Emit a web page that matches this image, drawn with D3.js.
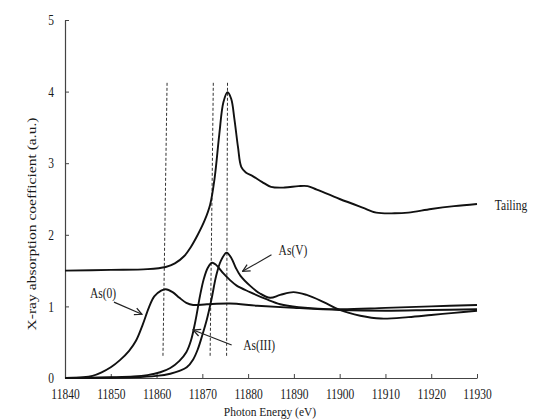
<!DOCTYPE html>
<html>
<head>
<meta charset="utf-8">
<script src="https://cdn.jsdelivr.net/npm/d3@7"></script>
<style>
  body { margin: 0; background: #fff; }
  text { font-family: "Liberation Serif", "Times New Roman", serif; fill: #1a1a1a; }
</style>
</head>
<body>
<script>
// data (energy in eV, absorption in a.u.)
var xTicks = [11840, 11850, 11860, 11870, 11880, 11890, 11900, 11910, 11920, 11930];
var yTicks = [0, 1, 2, 3, 4, 5];

var tailing = [[11840,1.50],[11850,1.51],[11858,1.52],[11862,1.55],[11864,1.60],[11866,1.70],[11867.5,1.83],
  [11869,2.0],[11870.5,2.2],[11871.7,2.42],[11872.7,2.8],[11873.7,3.4],[11874.6,3.85],[11875.5,3.99],
  [11876.3,3.9],[11877,3.62],[11877.8,3.22],[11878.5,2.95],[11879.5,2.87],[11881,2.82],[11883,2.74],
  [11885,2.67],[11888,2.66],[11891,2.68],[11893,2.68],[11895,2.63],[11900,2.50],[11905,2.38],[11908,2.31],
  [11912,2.30],[11915,2.31],[11920,2.36],[11925,2.40],[11930,2.43]];

var as0 = [[11840,0.0],[11844,0.01],[11846,0.03],[11848,0.08],[11850,0.15],[11852,0.25],[11854,0.38],
  [11855.5,0.52],[11857,0.75],[11858.3,0.98],[11859.5,1.14],[11861,1.22],[11862,1.24],[11863.5,1.2],
  [11865,1.12],[11866.5,1.05],[11868,1.02],[11871,1.03],[11876,1.04],[11882,1.01],[11890,0.98],
  [11900,0.95],[11910,0.94],[11920,0.95],[11930,0.96]];

var as3 = [[11840,0.0],[11850,0.01],[11855,0.02],[11858,0.04],[11860.8,0.08],[11863,0.14],[11865,0.24],
  [11866.5,0.36],[11867.5,0.52],[11868.5,0.8],[11869.5,1.15],[11870.3,1.38],[11871.2,1.54],[11872.1,1.61],
  [11873,1.58],[11874.6,1.46],[11876,1.37],[11877.5,1.29],[11880.4,1.2],[11884,1.1],[11887,1.03],
  [11891,0.99],[11900,0.96],[11910,0.98],[11920,1.0],[11930,1.02]];

var as5 = [[11840,0.0],[11855,0.01],[11860,0.03],[11863,0.06],[11865,0.1],[11866.6,0.15],[11868,0.26],
  [11869,0.4],[11870,0.6],[11871,0.82],[11872,1.1],[11873,1.42],[11874,1.63],[11875.3,1.75],[11876.3,1.68],
  [11877.3,1.54],[11878.3,1.43],[11880.4,1.29],[11882.6,1.18],[11884.8,1.12],[11887,1.16],[11889.9,1.2],
  [11892.8,1.16],[11896.5,1.06],[11900,0.95],[11904.5,0.87],[11909,0.83],[11915,0.85],[11920,0.88],
  [11925,0.91],[11930,0.94]];

// dashed guide lines: [x bottom, x top]
var guides = [[11861.4, 11862.3], [11871.7, 11872.4], [11875.3, 11875.5]];
var guideY = [0.31, 4.14];

// labels: text, x, y (baseline), and arrows [x1,y1,x2,y2] in data units
var labels = [
  {text: "As(0)", x: 11848.3, y: 1.12, anchor: "middle"},
  {text: "As(III)", x: 11882.4, y: 0.39, anchor: "middle"},
  {text: "As(V)", x: 11889.8, y: 1.72, anchor: "middle"},
  {text: "Tailing", x: 11933.9, y: 2.35, anchor: "start"}
];
var arrows = [
  [11850.7, 1.06, 11856.8, 0.89],
  [11876.4, 0.46, 11868.0, 0.67],
  [11885.1, 1.72, 11878.8, 1.49]
];

var width = 553, height = 419;
var stretch = 1.3; // text in the picture is taller than wide

var svg = d3.select("body").append("svg")
  .attr("width", width)
  .attr("height", height);

var x = d3.scaleLinear().domain([11840, 11930]).range([65, 477]);
var y = d3.scaleLinear().domain([0, 5]).range([378, 20]);

// arrowhead
svg.append("defs").append("marker")
  .attr("id", "head")
  .attr("viewBox", "0 0 10 10")
  .attr("refX", 9).attr("refY", 5)
  .attr("markerWidth", 9).attr("markerHeight", 9)
  .attr("markerUnits", "userSpaceOnUse")
  .attr("orient", "auto")
  .append("path")
  .attr("d", "M1,1 L9,5 L1,9")
  .attr("fill", "none")
  .attr("stroke", "#222")
  .attr("stroke-width", 1.4);

// axes
var xAxis = d3.axisBottom(x).tickValues(xTicks).tickFormat(d3.format("d"))
  .tickSizeInner(-4).tickSizeOuter(0);
var yAxis = d3.axisLeft(y).tickValues(yTicks).tickFormat(d3.format("d"))
  .tickSizeInner(-4).tickSizeOuter(0);

var gx = svg.append("g").attr("transform", "translate(0," + y(0) + ")").call(xAxis);
var gy = svg.append("g").attr("transform", "translate(" + x(11840) + ",0)").call(yAxis);

[gx, gy].forEach(function (g) {
  g.select(".domain").attr("stroke", "#444").attr("stroke-width", 1.2);
  g.selectAll(".tick line").attr("stroke", "#444");
  g.selectAll(".tick text")
    .attr("font-family", "Liberation Serif, Times New Roman, serif")
    .attr("font-size", 11.5)
    .attr("fill", "#1a1a1a");
});
gx.selectAll(".tick text").attr("y", 21 / stretch).attr("dy", 0)
  .attr("transform", "scale(1," + stretch + ")");
gy.selectAll(".tick text").attr("x", -11)
  .attr("transform", "scale(1," + stretch + ")");

// axis titles (bottom one is squeezed against the edge, as in the picture)
svg.append("text")
  .attr("transform", "translate(270,416) scale(1,1.15)")
  .attr("text-anchor", "middle")
  .attr("font-size", 11.5)
  .text("Photon Energy (eV)");

svg.append("text")
  .attr("transform", "translate(36,224) scale(1," + stretch + ") rotate(-90)")
  .attr("text-anchor", "middle")
  .attr("font-size", 12)
  .text("X-ray absorption coefficient (a.u.)");

// dashed guides
svg.selectAll(".guide")
  .data(guides)
  .enter().append("line")
  .attr("class", "guide")
  .attr("x1", function (d) { return x(d[0]); })
  .attr("y1", y(guideY[0]))
  .attr("x2", function (d) { return x(d[1]); })
  .attr("y2", y(guideY[1]))
  .attr("stroke", "#333")
  .attr("stroke-width", 1)
  .attr("stroke-dasharray", "3,2");

// spectra
var line = d3.line()
  .x(function (d) { return x(d[0]); })
  .y(function (d) { return y(d[1]); })
  .curve(d3.curveCatmullRom.alpha(0.5));

svg.selectAll(".spec")
  .data([tailing, as0, as3, as5])
  .enter().append("path")
  .attr("class", "spec")
  .attr("d", line)
  .attr("fill", "none")
  .attr("stroke", "#111")
  .attr("stroke-width", 1.9)
  .attr("stroke-linejoin", "round");

// labels and arrows
svg.selectAll(".arrow")
  .data(arrows)
  .enter().append("line")
  .attr("class", "arrow")
  .attr("x1", function (d) { return x(d[0]); })
  .attr("y1", function (d) { return y(d[1]); })
  .attr("x2", function (d) { return x(d[2]); })
  .attr("y2", function (d) { return y(d[3]); })
  .attr("stroke", "#222")
  .attr("stroke-width", 1.2)
  .attr("marker-end", "url(#head)");

svg.selectAll(".lbl")
  .data(labels)
  .enter().append("text")
  .attr("class", "lbl")
  .attr("transform", function (d) {
    return "translate(" + x(d.x) + "," + y(d.y) + ") scale(1," + stretch + ")";
  })
  .attr("text-anchor", function (d) { return d.anchor; })
  .attr("font-size", 11.5)
  .text(function (d) { return d.text; });
</script>
</body>
</html>
